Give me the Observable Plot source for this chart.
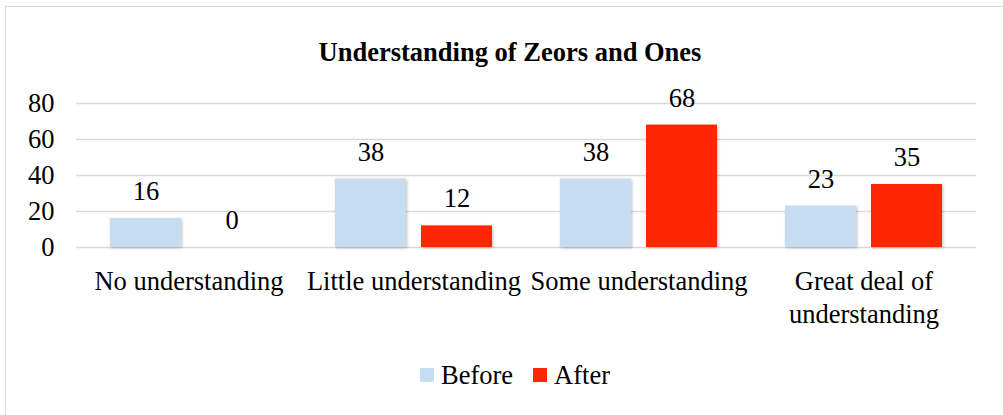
<!DOCTYPE html>
<html><head><meta charset="utf-8">
<script src="https://cdn.jsdelivr.net/npm/d3@7"></script>
<script src="https://cdn.jsdelivr.net/npm/@observablehq/plot@0.6"></script>
<style>
body{margin:0;width:1003px;height:415px;overflow:hidden;background:#fff;font-family:"Times New Roman","Liberation Serif",Tinos,serif;position:relative;color:#000}
#frame{position:absolute;left:5px;top:6px;width:1100px;height:500px;border:1.5px solid #d9d9d9;box-sizing:border-box}
#title{position:absolute;left:0;width:1020px;top:36px;text-align:center;font-weight:bold;font-size:26.5px;line-height:32px}
#chart{position:absolute;left:0;top:0}
#legend{position:absolute;left:0;width:1030px;top:359px;display:flex;justify-content:center;gap:20px;font-size:26.5px;line-height:32px}
#legend .item{display:flex;align-items:center}
#legend .sw{width:14px;height:14px;margin-right:7px}
#chart g[aria-label="bar"] rect{filter:drop-shadow(1px 1px 1.5px rgba(0,0,0,0.25))}
#chart svg text{font-family:"Times New Roman","Liberation Serif",Tinos,serif}
</style></head>
<body>
<div id="frame"></div>
<div id="title">Understanding of Zeors and Ones</div>
<div id="chart"></div>
<div id="legend"></div>
<script>
const categories = ["No understanding","Little understanding","Some understanding","Great deal of understanding"];
const categoryLabels = ["No understanding","Little understanding","Some understanding","Great deal of\nunderstanding"];
const series = ["Before","After"];
const colors = ["#c6dcf0","#ff2600"];
const before = [16,38,38,23];
const after = [0,12,68,35];
const yTicks = [0,20,40,60,80];

const data = [];
categories.forEach((c,i)=>{
  data.push({category:c, series:"Before", value:before[i]});
  data.push({category:c, series:"After", value:after[i]});
});

const chart = Plot.plot({
  width:1003, height:345,
  marginTop:103, marginBottom:98, marginLeft:74, marginRight:26,
  style:{fontFamily:"Times New Roman, Liberation Serif, serif", fontSize:"26.5px", color:"#000", background:"transparent", overflow:"visible"},
  fx:{domain:categories, padding:0, label:null},
  x:{domain:series, paddingInner:0.174, paddingOuter:0.395, axis:null},
  y:{domain:[0,80], label:null},
  color:{domain:series, range:colors},
  marks:[
    Plot.gridY({ticks:yTicks, stroke:"#d9d9d9", strokeOpacity:1, strokeWidth:1.5}),
    Plot.axisY({ticks:yTicks, tickSize:0, tickPadding:22, fontSize:26.5, label:null}),
    Plot.barY(data,{fx:"category", x:"series", y:"value", fill:"series"}),
    Plot.text(data,{fx:"category", x:"series", y:"value", text:d=>String(d.value), dy:-27, fontSize:26.5, fill:"#000"}),
    Plot.axisFx({anchor:"bottom", tickSize:0, tickPadding:19, fontSize:26.5, lineHeight:1.25, label:null,
      tickFormat:d=>categoryLabels[categories.indexOf(d)]})
  ]
});
document.getElementById("chart").appendChild(chart);

const legend = document.getElementById("legend");
series.forEach((s,i)=>{
  const item = document.createElement("div"); item.className="item";
  const sw = document.createElement("span"); sw.className="sw"; sw.style.background=colors[i];
  const t = document.createElement("span"); t.textContent=s;
  item.appendChild(sw); item.appendChild(t); legend.appendChild(item);
});
</script>
</body></html>
